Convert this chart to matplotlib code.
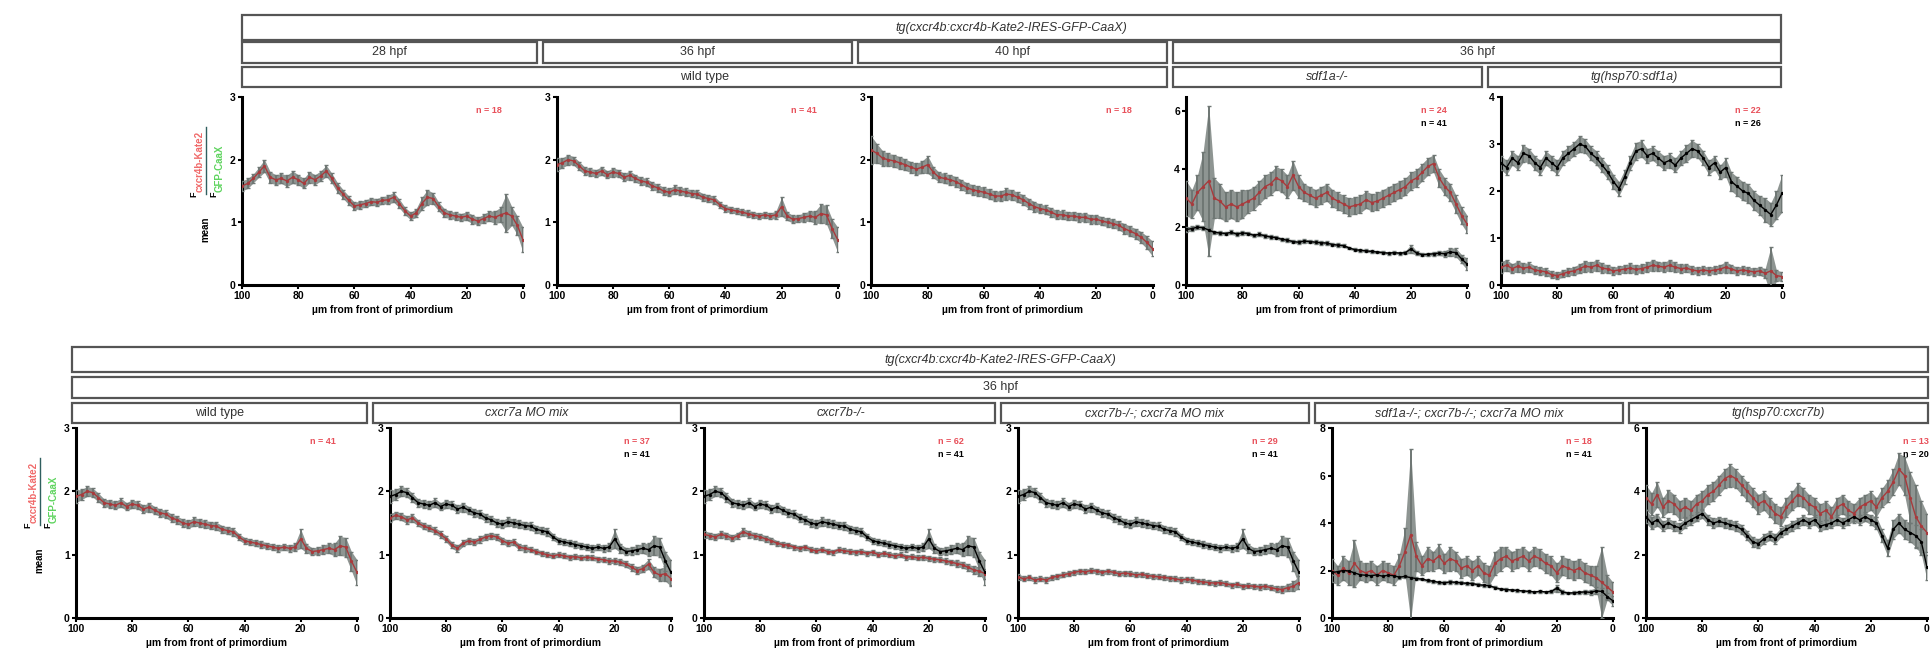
import numpy as np
import matplotlib
matplotlib.use("Agg")
import matplotlib.pyplot as plt
from matplotlib.patches import Rectangle
from matplotlib.lines import Line2D

# ── Data: mean Kate2/GFP ratio vs distance from primordium front ─────────────
DIST = np.arange(100, -1, -2)   # µm, 100 ... 0

wt28_mean = [1.58, 1.62, 1.70, 1.80, 1.90, 1.72, 1.68, 1.70, 1.66, 1.72, 1.68, 1.62, 1.72, 1.68, 1.74, 1.82, 1.70,
             1.55, 1.45, 1.35, 1.26, 1.28, 1.30, 1.33, 1.32, 1.35, 1.36, 1.40, 1.30, 1.18, 1.10, 1.15, 1.30, 1.40,
             1.38, 1.25, 1.15, 1.12, 1.10, 1.08, 1.10, 1.05, 1.02, 1.06, 1.10, 1.08, 1.12, 1.15, 1.10, 0.95, 0.72]
wt28_sem = [0.08, 0.08, 0.07, 0.08, 0.10, 0.09, 0.08, 0.08, 0.09, 0.10, 0.08, 0.08, 0.09, 0.08, 0.08, 0.09, 0.08,
            0.08, 0.07, 0.07, 0.06, 0.06, 0.06, 0.06, 0.06, 0.06, 0.07, 0.08, 0.07, 0.06, 0.06, 0.07, 0.10, 0.12,
            0.09, 0.07, 0.07, 0.06, 0.06, 0.06, 0.07, 0.07, 0.06, 0.07, 0.08, 0.10, 0.12, 0.30, 0.15, 0.15, 0.20]

wt36_mean = [1.92, 1.95, 2.00, 1.98, 1.90, 1.82, 1.80, 1.78, 1.82, 1.76, 1.80, 1.78, 1.72, 1.75, 1.70, 1.66, 1.64,
             1.58, 1.55, 1.50, 1.48, 1.52, 1.50, 1.48, 1.46, 1.45, 1.40, 1.38, 1.36, 1.28, 1.22, 1.20, 1.18, 1.16,
             1.14, 1.12, 1.10, 1.12, 1.10, 1.12, 1.25, 1.10, 1.05, 1.06, 1.08, 1.10, 1.08, 1.14, 1.12, 0.90, 0.72]
wt36_sem = [0.10, 0.08, 0.08, 0.07, 0.07, 0.06, 0.06, 0.06, 0.07, 0.06, 0.07, 0.06, 0.06, 0.07, 0.06, 0.06, 0.06,
            0.06, 0.06, 0.06, 0.06, 0.07, 0.06, 0.06, 0.06, 0.06, 0.06, 0.06, 0.06, 0.05, 0.05, 0.05, 0.05, 0.05,
            0.05, 0.05, 0.05, 0.05, 0.05, 0.06, 0.15, 0.07, 0.06, 0.06, 0.07, 0.08, 0.10, 0.15, 0.15, 0.15, 0.20]

wt40_mean = [2.15, 2.10, 2.02, 2.00, 1.98, 1.95, 1.92, 1.88, 1.85, 1.88, 1.92, 1.80, 1.72, 1.70, 1.68, 1.65, 1.60,
             1.55, 1.52, 1.50, 1.48, 1.45, 1.42, 1.42, 1.45, 1.44, 1.40, 1.36, 1.30, 1.25, 1.22, 1.20, 1.16, 1.12,
             1.12, 1.10, 1.10, 1.08, 1.08, 1.05, 1.05, 1.02, 1.00, 0.98, 0.95, 0.90, 0.86, 0.82, 0.76, 0.68, 0.58]
wt40_sem = [0.22, 0.15, 0.12, 0.10, 0.10, 0.10, 0.09, 0.09, 0.09, 0.10, 0.14, 0.09, 0.08, 0.08, 0.08, 0.08, 0.08,
            0.08, 0.08, 0.08, 0.08, 0.08, 0.08, 0.08, 0.09, 0.08, 0.08, 0.08, 0.08, 0.08, 0.07, 0.07, 0.07, 0.07,
            0.07, 0.07, 0.07, 0.07, 0.07, 0.07, 0.07, 0.07, 0.07, 0.07, 0.07, 0.08, 0.08, 0.08, 0.09, 0.10, 0.12]

sdf1a_mut_mean = [3.0, 2.8, 3.2, 3.4, 3.6, 3.0, 2.9, 2.7, 2.8, 2.7, 2.8, 2.9, 3.0, 3.2, 3.4, 3.5, 3.7,
                  3.6, 3.4, 3.8, 3.4, 3.2, 3.1, 3.0, 3.1, 3.2, 3.0, 2.9, 2.8, 2.7, 2.75, 2.8, 2.95, 2.85,
                  2.9, 3.0, 3.1, 3.2, 3.3, 3.4, 3.6, 3.7, 3.9, 4.1, 4.2, 3.7, 3.4, 3.2, 2.8, 2.4, 2.1]
sdf1a_mut_sem = [0.6, 0.5, 0.6, 1.2, 2.6, 0.7, 0.6, 0.5, 0.5, 0.5, 0.5, 0.4, 0.4, 0.4, 0.4, 0.4, 0.4,
                 0.4, 0.4, 0.5, 0.4, 0.3, 0.3, 0.3, 0.3, 0.3, 0.3, 0.3, 0.3, 0.3, 0.3, 0.3, 0.3, 0.3,
                 0.3, 0.3, 0.3, 0.3, 0.3, 0.3, 0.3, 0.3, 0.3, 0.3, 0.3, 0.3, 0.3, 0.3, 0.3, 0.3, 0.3]

hs_sdf1a_red_mean = [0.38, 0.42, 0.35, 0.40, 0.36, 0.38, 0.32, 0.30, 0.28, 0.22, 0.20, 0.24, 0.28, 0.30, 0.35, 0.40, 0.38,
                     0.42, 0.36, 0.34, 0.30, 0.32, 0.34, 0.36, 0.33, 0.35, 0.38, 0.42, 0.40, 0.38, 0.42, 0.38, 0.35, 0.36,
                     0.32, 0.30, 0.32, 0.30, 0.32, 0.34, 0.38, 0.34, 0.30, 0.32, 0.30, 0.28, 0.30, 0.25, 0.30, 0.20, 0.18]
hs_sdf1a_red_sem = [0.12, 0.12, 0.10, 0.12, 0.10, 0.10, 0.09, 0.08, 0.08, 0.07, 0.07, 0.08, 0.08, 0.09, 0.10, 0.12, 0.10,
                    0.12, 0.10, 0.09, 0.08, 0.08, 0.09, 0.10, 0.09, 0.09, 0.10, 0.12, 0.10, 0.10, 0.12, 0.10, 0.09, 0.09,
                    0.08, 0.08, 0.08, 0.08, 0.08, 0.09, 0.12, 0.09, 0.08, 0.08, 0.08, 0.08, 0.09, 0.10, 0.50, 0.12, 0.10]

hs_sdf1a_blk_mean = [2.6, 2.5, 2.7, 2.6, 2.8, 2.75, 2.6, 2.5, 2.7, 2.6, 2.5, 2.7, 2.8, 2.9, 3.0, 2.95, 2.8,
                     2.7, 2.55, 2.4, 2.2, 2.05, 2.3, 2.6, 2.85, 2.9, 2.75, 2.8, 2.7, 2.6, 2.65, 2.55, 2.7, 2.8,
                     2.9, 2.85, 2.7, 2.5, 2.6, 2.4, 2.5, 2.2, 2.1, 2.0, 1.95, 1.8, 1.7, 1.6, 1.5, 1.7, 1.95]
hs_sdf1a_blk_sem = [0.15, 0.15, 0.15, 0.15, 0.18, 0.15, 0.15, 0.15, 0.15, 0.15, 0.15, 0.15, 0.15, 0.15, 0.18, 0.15, 0.15,
                    0.15, 0.15, 0.15, 0.15, 0.15, 0.15, 0.15, 0.18, 0.18, 0.15, 0.15, 0.15, 0.15, 0.15, 0.15, 0.15, 0.18,
                    0.18, 0.15, 0.15, 0.15, 0.15, 0.15, 0.20, 0.20, 0.20, 0.20, 0.20, 0.20, 0.20, 0.25, 0.25, 0.30, 0.40]

cxcr7a_mo_mean = [1.58, 1.62, 1.60, 1.55, 1.58, 1.50, 1.45, 1.42, 1.38, 1.32, 1.25, 1.15, 1.10, 1.18, 1.22, 1.20, 1.24,
                  1.28, 1.30, 1.28, 1.22, 1.18, 1.20, 1.12, 1.10, 1.08, 1.05, 1.02, 1.00, 0.98, 1.00, 0.98, 0.96, 0.97,
                  0.95, 0.96, 0.95, 0.93, 0.92, 0.90, 0.90, 0.88, 0.85, 0.80, 0.75, 0.78, 0.85, 0.72, 0.68, 0.70, 0.62]
cxcr7a_mo_sem = [0.07, 0.06, 0.06, 0.06, 0.06, 0.05, 0.05, 0.05, 0.05, 0.05, 0.05, 0.05, 0.05, 0.05, 0.05, 0.05, 0.05,
                 0.05, 0.05, 0.05, 0.05, 0.05, 0.05, 0.05, 0.05, 0.04, 0.04, 0.04, 0.04, 0.04, 0.04, 0.04, 0.04, 0.04,
                 0.04, 0.04, 0.04, 0.04, 0.04, 0.04, 0.04, 0.05, 0.05, 0.05, 0.06, 0.06, 0.08, 0.08, 0.10, 0.12, 0.12]

cxcr7b_mut_mean = [1.32, 1.30, 1.28, 1.32, 1.30, 1.26, 1.30, 1.36, 1.32, 1.30, 1.28, 1.25, 1.22, 1.18, 1.16, 1.15, 1.12,
                   1.10, 1.12, 1.08, 1.06, 1.08, 1.05, 1.04, 1.08, 1.06, 1.05, 1.04, 1.05, 1.02, 1.04, 1.00, 1.02, 1.00,
                   0.98, 1.00, 0.96, 0.97, 0.95, 0.96, 0.94, 0.93, 0.92, 0.90, 0.88, 0.86, 0.84, 0.80, 0.76, 0.74, 0.70]
cxcr7b_mut_sem = [0.06, 0.05, 0.05, 0.05, 0.05, 0.05, 0.05, 0.06, 0.05, 0.05, 0.05, 0.05, 0.05, 0.04, 0.04, 0.04, 0.04,
                  0.04, 0.04, 0.04, 0.04, 0.04, 0.04, 0.04, 0.04, 0.04, 0.04, 0.04, 0.04, 0.04, 0.04, 0.04, 0.04, 0.04,
                  0.04, 0.04, 0.04, 0.04, 0.04, 0.04, 0.04, 0.04, 0.04, 0.04, 0.04, 0.05, 0.05, 0.05, 0.06, 0.07, 0.08]

cxcr7b_7a_mean = [0.65, 0.62, 0.64, 0.60, 0.62, 0.60, 0.64, 0.66, 0.68, 0.70, 0.72, 0.74, 0.73, 0.75, 0.74, 0.72, 0.74,
                  0.72, 0.70, 0.71, 0.70, 0.68, 0.69, 0.67, 0.66, 0.65, 0.64, 0.63, 0.62, 0.60, 0.61, 0.60, 0.58, 0.57,
                  0.56, 0.55, 0.56, 0.54, 0.52, 0.53, 0.50, 0.51, 0.50, 0.49, 0.50, 0.48, 0.46, 0.45, 0.48, 0.50, 0.56]
cxcr7b_7a_sem = [0.05, 0.04, 0.04, 0.04, 0.04, 0.04, 0.04, 0.04, 0.04, 0.04, 0.04, 0.04, 0.04, 0.04, 0.04, 0.04, 0.04,
                 0.04, 0.04, 0.04, 0.04, 0.04, 0.04, 0.04, 0.04, 0.04, 0.04, 0.04, 0.04, 0.04, 0.04, 0.04, 0.04, 0.04,
                 0.04, 0.04, 0.04, 0.04, 0.04, 0.04, 0.04, 0.04, 0.04, 0.04, 0.04, 0.04, 0.05, 0.05, 0.06, 0.08, 0.10]

triple_mean = [2.0, 1.8, 2.1, 1.9, 2.3, 2.0, 1.9, 2.0, 1.8, 2.0, 1.9, 1.8, 2.2, 2.8, 3.5, 2.6, 2.2,
               2.5, 2.4, 2.6, 2.3, 2.5, 2.4, 2.1, 2.2, 2.0, 2.2, 1.9, 1.8, 2.3, 2.5, 2.6, 2.4, 2.5,
               2.6, 2.4, 2.6, 2.5, 2.3, 2.2, 1.9, 2.2, 2.1, 2.0, 2.1, 1.9, 1.8, 1.7, 1.5, 1.3, 1.1]
triple_sem = [0.5, 0.4, 0.5, 0.5, 1.0, 0.4, 0.4, 0.4, 0.4, 0.4, 0.4, 0.4, 0.5, 1.0, 3.6, 0.6, 0.4,
              0.5, 0.4, 0.5, 0.4, 0.5, 0.4, 0.4, 0.4, 0.4, 0.4, 0.4, 0.4, 0.5, 0.5, 0.4, 0.4, 0.4,
              0.4, 0.4, 0.4, 0.4, 0.4, 0.4, 0.4, 0.4, 0.4, 0.4, 0.4, 0.4, 0.4, 0.5, 1.5, 0.5, 0.4]

hs_cxcr7b_red_mean = [3.8, 3.6, 3.9, 3.5, 3.7, 3.6, 3.4, 3.5, 3.4, 3.6, 3.7, 3.9, 4.0, 4.2, 4.4, 4.5, 4.4,
                      4.2, 4.0, 3.8, 3.6, 3.7, 3.5, 3.3, 3.2, 3.5, 3.7, 3.9, 3.8, 3.6, 3.5, 3.3, 3.4, 3.2,
                      3.5, 3.6, 3.4, 3.3, 3.5, 3.6, 3.7, 3.5, 3.8, 4.0, 4.3, 4.7, 4.5, 3.8, 3.2, 2.9, 2.7]
hs_cxcr7b_red_sem = [0.4, 0.35, 0.4, 0.3, 0.35, 0.3, 0.3, 0.3, 0.3, 0.3, 0.3, 0.3, 0.3, 0.3, 0.3, 0.35, 0.3,
                     0.3, 0.3, 0.3, 0.3, 0.3, 0.3, 0.3, 0.3, 0.3, 0.3, 0.35, 0.3, 0.3, 0.3, 0.3, 0.3, 0.3,
                     0.3, 0.3, 0.3, 0.3, 0.3, 0.3, 0.3, 0.3, 0.3, 0.35, 0.4, 0.5, 0.6, 0.8, 1.0, 0.8, 0.6]

hs_cxcr7b_blk_mean = [3.2, 3.0, 3.1, 2.9, 3.0, 2.9, 2.85, 3.0, 3.1, 3.2, 3.3, 3.1, 3.0, 3.05, 3.0, 2.95, 2.9,
                      2.8, 2.6, 2.4, 2.35, 2.5, 2.6, 2.5, 2.7, 2.8, 2.9, 3.0, 3.1, 3.0, 3.1, 2.9, 2.95, 3.0,
                      3.1, 3.0, 3.1, 3.2, 3.1, 3.2, 3.1, 3.0, 2.6, 2.2, 2.8, 3.0, 2.8, 2.7, 2.6, 2.4, 1.6]
hs_cxcr7b_blk_sem = [0.2, 0.2, 0.2, 0.15, 0.15, 0.15, 0.15, 0.15, 0.15, 0.15, 0.15, 0.15, 0.15, 0.15, 0.15, 0.15, 0.15,
                     0.15, 0.15, 0.15, 0.15, 0.15, 0.15, 0.15, 0.15, 0.15, 0.15, 0.15, 0.15, 0.15, 0.15, 0.15, 0.15, 0.15,
                     0.15, 0.15, 0.15, 0.15, 0.15, 0.15, 0.15, 0.2, 0.2, 0.25, 0.3, 0.3, 0.3, 0.3, 0.35, 0.4, 0.4]

# ── Panel definitions ─────────────────────────────────────────────────────────
# (red series, black series or None, y max, y ticks, n red, n black)
TOP_PANELS = [
    ((wt28_mean, wt28_sem), None, 3, [0, 1, 2, 3], "n = 18", None),
    ((wt36_mean, wt36_sem), None, 3, [0, 1, 2, 3], "n = 41", None),
    ((wt40_mean, wt40_sem), None, 3, [0, 1, 2, 3], "n = 18", None),
    ((sdf1a_mut_mean, sdf1a_mut_sem), (wt36_mean, wt36_sem), 6.5, [0, 2, 4, 6], "n = 24", "n = 41"),
    ((hs_sdf1a_red_mean, hs_sdf1a_red_sem), (hs_sdf1a_blk_mean, hs_sdf1a_blk_sem), 4, [0, 1, 2, 3, 4], "n = 22", "n = 26"),
]
BOTTOM_PANELS = [
    ((wt36_mean, wt36_sem), None, 3, [0, 1, 2, 3], "n = 41", None),
    ((cxcr7a_mo_mean, cxcr7a_mo_sem), (wt36_mean, wt36_sem), 3, [0, 1, 2, 3], "n = 37", "n = 41"),
    ((cxcr7b_mut_mean, cxcr7b_mut_sem), (wt36_mean, wt36_sem), 3, [0, 1, 2, 3], "n = 62", "n = 41"),
    ((cxcr7b_7a_mean, cxcr7b_7a_sem), (wt36_mean, wt36_sem), 3, [0, 1, 2, 3], "n = 29", "n = 41"),
    ((triple_mean, triple_sem), (wt36_mean, wt36_sem), 8, [0, 2, 4, 6, 8], "n = 18", "n = 41"),
    ((hs_cxcr7b_red_mean, hs_cxcr7b_red_sem), (hs_cxcr7b_blk_mean, hs_cxcr7b_blk_sem), 6, [0, 2, 4, 6], "n = 13", "n = 20"),
]

TRANSGENE = "tg(cxcr4b:cxcr4b-Kate2-IRES-GFP-CaaX)"
# header rows: list of (label, italic, left px, right px)
TOP_HEADERS = [
    [(TRANSGENE, True, 242, 1781)],
    [("28 hpf", False, 242, 537), ("36 hpf", False, 543, 852),
     ("40 hpf", False, 858, 1167), ("36 hpf", False, 1173, 1781)],
    [("wild type", False, 242, 1167), ("sdf1a-/-", True, 1173, 1482),
     ("tg(hsp70:sdf1a)", True, 1488, 1781)],
]
BOT_LABELS = ["wild type", "cxcr7a MO mix", "cxcr7b-/-", "cxcr7b-/-; cxcr7a MO mix",
              "sdf1a-/-; cxcr7b-/-; cxcr7a MO mix", "tg(hsp70:cxcr7b)"]
BOT_EDGES = [72, 370, 684, 998, 1312, 1626, 1931]
BOT_HEADERS = [
    [(TRANSGENE, True, 72, 1928)],
    [("36 hpf", False, 72, 1928)],
    [(lab, lab != "wild type", BOT_EDGES[i] + (3 if i else 0), min(BOT_EDGES[i + 1] - 3, 1928))
     for i, lab in enumerate(BOT_LABELS)],
]

# ── Figure ────────────────────────────────────────────────────────────────────
W, H = 1931, 661
plt.rcParams["font.family"] = ["Liberation Sans", "DejaVu Sans"]
fig = plt.figure(figsize=(W / 100, H / 100), dpi=100)
fig.patch.set_facecolor("white")

RED = "#a83a3c"
ERR = "#6f7774"
BAND = "#8e9592"
N_RED = "#e8505a"


def fx(px):
    return px / W


def fy(py):
    return 1 - py / H


def add_axes_px(left, top, width, height):
    return fig.add_axes([fx(left), fy(top + height), width / W, height / H])


def draw_series(ax, mean, sem, color):
    m = np.asarray(mean)
    s = np.asarray(sem)
    ax.fill_between(DIST, m - s, m + s, color=BAND, lw=0, zorder=2)
    ax.errorbar(DIST, m, yerr=s, fmt="none", ecolor=ERR, elinewidth=1.4,
                capsize=1.2, capthick=1.0, zorder=3)
    ax.plot(DIST, m, "-o", color=color, lw=1.0, ms=2.4, mew=0, zorder=4)


def style_axes(ax, ymax, yticks):
    ax.set_xlim(100, 0)
    ax.set_ylim(0, ymax)
    ax.set_xticks([100, 80, 60, 40, 20, 0])
    ax.set_yticks(yticks)
    for side in ("top", "right"):
        ax.spines[side].set_visible(False)
    for side in ("left", "bottom"):
        ax.spines[side].set_linewidth(2.2)
    ax.tick_params(direction="out", length=3, width=1.5, labelsize=7.5, pad=1.5)
    for lab in ax.get_xticklabels() + ax.get_yticklabels():
        lab.set_fontweight("bold")
    ax.set_xlabel("\u00b5m from front of primordium", fontsize=7.5, fontweight="bold", labelpad=3)


def draw_headers(rows, tops, heights):
    for row, top, h in zip(rows, tops, heights):
        for label, italic, x0, x1 in row:
            fig.patches.append(Rectangle((fx(x0), fy(top + h)), (x1 - x0) / W, h / H,
                                         transform=fig.transFigure, facecolor="white",
                                         edgecolor="#555555", lw=1.6))
            fig.text(fx((x0 + x1) / 2), fy(top + h / 2), label, ha="center", va="center",
                     fontsize=9, style="italic" if italic else "normal", color="#333333")


def draw_ratio_label(sx, ty):
    # mean F(Kate2)/F(GFP) legend drawn rotated to the left of the first panel
    fig.text(fx(sx - 48), fy(ty + 100), "F", rotation=90, ha="center", va="bottom",
             fontsize=6.5, fontweight="bold")
    fig.text(fx(sx - 42), fy(ty + 95), "cxcr4b-Kate2", rotation=90, ha="center", va="bottom",
             fontsize=7, color="#f06a6a", fontweight="bold")
    fig.lines.append(Line2D([fx(sx - 36), fx(sx - 36)], [fy(ty + 30), fy(ty + 97)],
                            transform=fig.transFigure, color="#2f5f5f", lw=1.0))
    fig.text(fx(sx - 28), fy(ty + 100), "F", rotation=90, ha="center", va="bottom",
             fontsize=6.5, fontweight="bold")
    fig.text(fx(sx - 22), fy(ty + 95), "GFP-CaaX", rotation=90, ha="center", va="bottom",
             fontsize=7, color="#5ed45e", fontweight="bold")
    fig.text(fx(sx - 37), fy(ty + 132), "mean", rotation=90, ha="center", va="center",
             fontsize=7, fontweight="bold")


def draw_row(panels, left0, pitch, top, width, height, nx_list):
    for i, (red, black, ymax, yticks, n_red, n_black) in enumerate(panels):
        ax = add_axes_px(left0 + i * pitch, top, width, height)
        draw_series(ax, red[0], red[1], RED)
        if black is not None:
            draw_series(ax, black[0], black[1], "black")
        style_axes(ax, ymax, yticks)
        nx = nx_list[i]
        ax.text(nx, 0.93, n_red, transform=ax.transAxes, ha="center", va="center",
                fontsize=6.5, fontweight="bold", color=N_RED)
        if n_black:
            ax.text(nx, 0.86, n_black, transform=ax.transAxes, ha="center", va="center",
                    fontsize=6.5, fontweight="bold", color="black")


# top block
draw_headers(TOP_HEADERS, [15, 42, 67], [25, 21, 20])
draw_row(TOP_PANELS, 242, 314.75, 97, 281, 188, [0.88] * 5)
draw_ratio_label(242, 97)

# bottom block
draw_headers(BOT_HEADERS, [347, 377, 403], [25, 21, 20])
draw_row(BOTTOM_PANELS, 76, 314, 428, 281, 190, [0.88] * 5 + [0.96])
draw_ratio_label(76, 428)

fig.savefig("out.png", dpi=100, facecolor="white")
